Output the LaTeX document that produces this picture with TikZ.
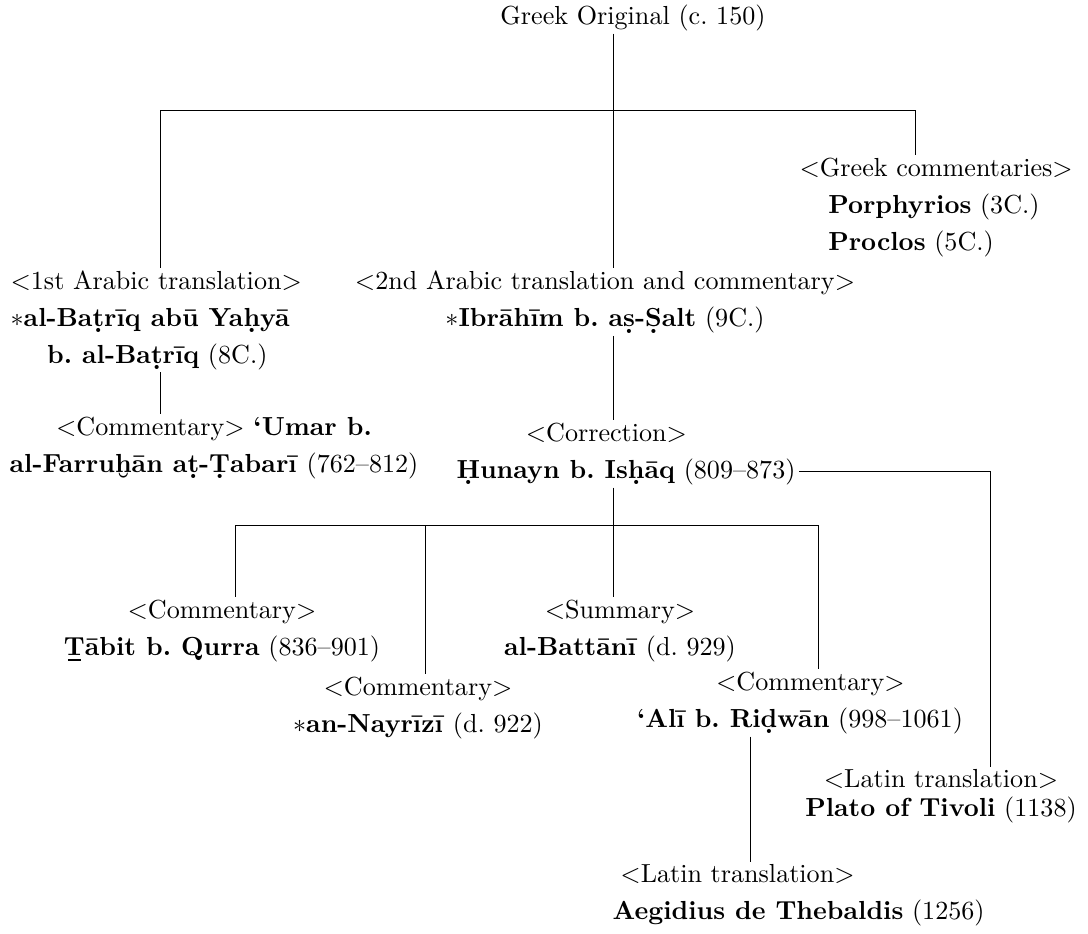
\documentclass[tikz,border=0pt]{standalone}
\usetikzlibrary{calc}
\newcommand\udot[1]{{\ooalign{#1\cr\hidewidth\raisebox{-0.55ex}{.}\hidewidth\cr}}}
\newcommand\ubrv[1]{{\ooalign{#1\cr\hidewidth\raisebox{-0.74em}{\char"02D8}\hidewidth\cr}}}
\newcommand\ubar[1]{{\ooalign{#1\cr\hidewidth\raisebox{-0.2em}{\rule{0.5em}{0.07em}}\hidewidth\cr}}}
\frenchspacing
\tikzset{
  entry/.style={inner sep=1pt, outer sep=0pt, align=center, font=\fontsize{10}{14.2}\selectfont},
  lentry/.style={entry, align=left, anchor=west},
  conn/.style={draw=black, line width=0.35pt},
}
\begin{document}
\begin{tikzpicture}[x=0.383pt, y=-0.383pt]
\useasboundingbox (0,0) rectangle (1088,933);
% nodes
\node[entry] (greek) at (633,18) {Greek Original (c.~150)};
\node[lentry] (gc) at (797,207.5) {$<$Greek commentaries$>$\\ \hspace*{11pt}\textbf{Porphyrios} (3C.)\\ \hspace*{11pt}\textbf{Proclos} (5C.)};
\node[lentry] (ar1) at (8,320) {$<$1st Arabic translation$>$\\ $\ast$\textbf{al-Ba\udot{t}rīq abū Ya\udot{h}yā}\\ \hspace*{14pt}\textbf{b. al-Ba\udot{t}rīq} (8C.)};
\node[entry] (com1) at (214,454) {$<$Commentary$>$ \textbf{‘Umar b.}\\ \textbf{al-Farru\ubrv{h}ān a\udot{t}-\udot{T}abarī} (762--812)};
\node[entry] (ar2) at (605,302) {$<$2nd Arabic translation and commentary$>$\\ $\ast$\textbf{Ibrāhīm b. a\udot{s}-\udot{S}alt} (9C.)};
\node[entry] (cor) at (626,454) {$<$Correction$>$\hspace*{15pt}\\ \textbf{\udot{H}unayn b. Is\udot{h}āq} (809--873)};
\node[entry] (tab) at (222,631) {$<$Commentary$>$\\ \textbf{\ubar{T}ābit b. Qurra} (836--901)};
\node[entry] (nay) at (418,708) {$<$Commentary$>$\\ $\ast$\textbf{an-Nayrīzī} (d.~922)};
\node[entry] (bat) at (620,631) {$<$Summary$>$\\ \textbf{al-Battānī} (d.~929)};
\node[entry] (ali) at (800,703) {\hspace*{8pt}$<$Commentary$>$\\ \textbf{‘Alī b. Ri\udot{d}wān} (998--1061)};
\node[lentry] (aeg) at (610,895) {\hspace*{3pt}$<$Latin translation$>$\\ \textbf{Aegidius de Thebaldis} (1256)};
\node[entry, font=\fontsize{10}{11}\selectfont] (pla) at (941,796) {$<$Latin translation$>$\\ \textbf{Plato of Tivoli} (1138)};
% junctions
\coordinate (t0) at (613,110);
\coordinate (jL) at (160,110);
\coordinate (jR) at (915,110);
\coordinate (t1) at (613,525);
\coordinate (b1) at (235,525);
\coordinate (b2) at (425,525);
\coordinate (b4) at (818,525);
\coordinate (pl) at (990,0);
\coordinate (lt) at (750,0);
\coordinate (hunEnd) at ($(cor.south east)+(1,-16)$);
% connectors
\draw[conn] (t0 |- greek.south) -- (t0);
\draw[conn] (jL) -- (jR);
\draw[conn] (jL) -- (jL |- ar1.north);
\draw[conn] (jR) -- (jR |- gc.north);
\draw[conn] (t0) -- (t0 |- ar2.north);
\draw[conn] (jL |- ar1.south) -- (jL |- com1.north);
\draw[conn] (t0 |- ar2.south) -- (t0 |- cor.north);
\draw[conn] (hunEnd) -| (pl |- pla.north);
\draw[conn] (t0 |- cor.south) -- (t1);
\draw[conn] (b1) -- (b4);
\draw[conn] (b1) -- (b1 |- tab.north);
\draw[conn] (b2) -- (b2 |- nay.north);
\draw[conn] (t1) -- (t1 |- bat.north);
\draw[conn] (b4) -- (b4 |- ali.north);
\draw[conn] (lt |- ali.south) -- (lt |- aeg.north);
\end{tikzpicture}
\end{document}
